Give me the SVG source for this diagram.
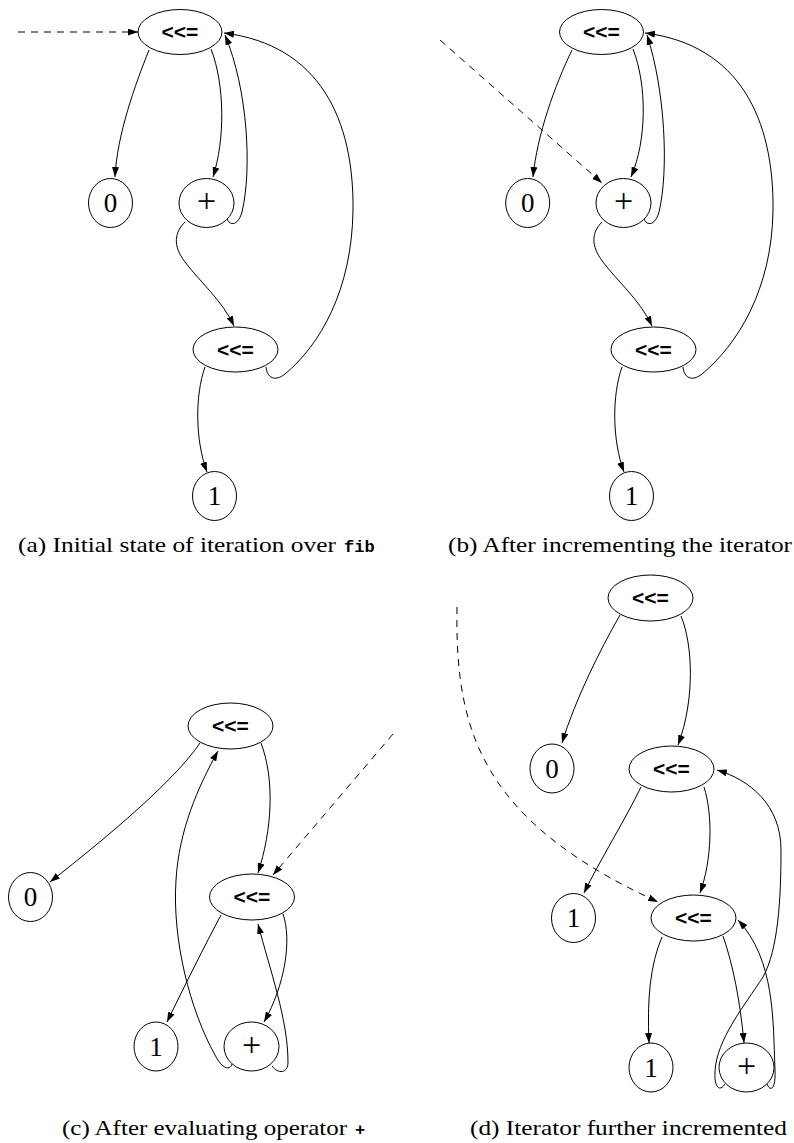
<svg xmlns="http://www.w3.org/2000/svg" width="794" height="1143" viewBox="0 0 794 1143">
<defs>
<marker id="ah" markerWidth="10" markerHeight="7" refX="10" refY="3.5" orient="auto" markerUnits="userSpaceOnUse"><path d="M0,0 L10,3.5 L0,7 z" fill="#000"/></marker>
<style>
.e{fill:#fff;stroke:#000;stroke-width:1}
.c{fill:none;stroke:#000;stroke-width:1;marker-end:url(#ah)}
.d{stroke-dasharray:7,6}
.op{font-family:"Liberation Sans",Arial,sans-serif;font-weight:bold;font-size:21px;text-anchor:middle}
.n{font-family:"Liberation Serif","Times New Roman",serif;font-size:27px;text-anchor:middle}
.p{font-family:"Liberation Serif","Times New Roman",serif;font-size:34px;text-anchor:middle}
.cap{font-family:"Liberation Serif","Times New Roman",serif;font-size:21px}
.tt{font-family:"Liberation Mono","Courier New",monospace;font-weight:bold;font-size:17px}
</style>
</defs>
<rect width="794" height="1143" fill="#fff"/>
<g id="connectors">
<path class="c d" d="M18,32 L138,32"/>
<path class="c" d="M149,50 C135,85 117,135 115,177"/>
<path class="c" d="M211,49 C225,85 225,140 213,177"/>
<path class="c" d="M227,219 C230,226 238,226 242,212 C252,170 248,90 225,35"/>
<path class="c" d="M185,222 C175,232 172,245 185,262 C200,282 222,300 234,326"/>
<path class="c" d="M266,367 C267,378 275,382 285,374 C320,345 352,290 353,210 C354,120 320,45 224,33"/>
<path class="c" d="M205,367 C195,395 195,440 207,472"/>
<path class="c d" d="M440,40 L602,183"/>
<path class="c" d="M572,50 C555,85 537,135 533,177"/>
<path class="c" d="M633,49 C647,85 647,140 631,177"/>
<path class="c" d="M644,219 C647,226 655,226 659,212 C669,170 665,90 647,35"/>
<path class="c" d="M602,222 C592,232 590,245 603,262 C618,282 640,300 652,326"/>
<path class="c" d="M683,367 C684,378 692,382 702,374 C737,345 772,290 773,210 C774,120 740,45 645,33"/>
<path class="c" d="M622,367 C612,395 612,440 624,472"/>
<path class="c" d="M200,743 C175,780 110,835 50,882"/>
<path class="c" d="M261,743 C275,780 272,830 258,873"/>
<path class="c d" d="M393,734 L273,875"/>
<path class="c" d="M232,1064 C230,1071 222,1069 215,1055 C190,1010 172,940 176,880 C179,830 198,787 218,751"/>
<path class="c" d="M221,915 C205,945 185,985 167,1022"/>
<path class="c" d="M283,914 C292,940 285,985 264,1022"/>
<path class="c" d="M272,1066 C278,1074 288,1074 288,1062 C288,1020 270,970 258,924"/>
<path class="c" d="M620,615 C600,650 575,700 562,743"/>
<path class="c" d="M681,616 C693,645 695,700 678,745"/>
<path class="c d" d="M457,607 C455,730 480,820 658,902"/>
<path class="c" d="M641,787 C625,820 600,860 584,893"/>
<path class="c" d="M704,787 C713,815 712,860 700,893"/>
<path class="c" d="M725,1084 C720,1092 714,1088 715,1072 C716,1040 745,1005 763,977 C778,950 781,900 781,850 C781,805 750,780 717,770"/>
<path class="c" d="M662,937 C650,965 647,1000 649,1043"/>
<path class="c" d="M723,936 C733,965 740,1000 744,1043"/>
<path class="c" d="M767,1084 C770,1092 776,1090 775,1070 C773,1020 775,960 738,920"/>
</g>
<g id="a-top"><ellipse class="e" cx="180" cy="32" rx="42" ry="22.5"/><text class="op" x="180" y="39">&lt;&lt;=</text></g>
<g id="a-zero"><ellipse class="e" cx="110.5" cy="203" rx="22" ry="24.5"/><text class="n" x="110.5" y="212">0</text></g>
<g id="a-plus"><ellipse class="e" cx="206.5" cy="203" rx="27.5" ry="24.5"/><text class="p" x="206.5" y="212">+</text></g>
<g id="a-mid"><ellipse class="e" cx="235.5" cy="349.5" rx="42.5" ry="22.5"/><text class="op" x="235.5" y="356.5">&lt;&lt;=</text></g>
<g id="a-one"><ellipse class="e" cx="214.5" cy="496" rx="22" ry="24.5"/><text class="n" x="214.5" y="505">1</text></g>
<g id="b-top"><ellipse class="e" cx="601.5" cy="32" rx="42" ry="22.5"/><text class="op" x="601.5" y="39">&lt;&lt;=</text></g>
<g id="b-zero"><ellipse class="e" cx="527.7" cy="203" rx="22" ry="24.5"/><text class="n" x="527.7" y="212">0</text></g>
<g id="b-plus"><ellipse class="e" cx="623.5" cy="203" rx="27.5" ry="24.5"/><text class="p" x="623.5" y="212">+</text></g>
<g id="b-mid"><ellipse class="e" cx="653.5" cy="349.5" rx="42.5" ry="22.5"/><text class="op" x="653.5" y="356.5">&lt;&lt;=</text></g>
<g id="b-one"><ellipse class="e" cx="631.5" cy="496" rx="22" ry="24.5"/><text class="n" x="631.5" y="505">1</text></g>
<g id="c-top"><ellipse class="e" cx="230.5" cy="726" rx="42.5" ry="23"/><text class="op" x="230.5" y="733">&lt;&lt;=</text></g>
<g id="c-mid"><ellipse class="e" cx="252" cy="897" rx="42.5" ry="23"/><text class="op" x="252" y="904">&lt;&lt;=</text></g>
<g id="c-zero"><ellipse class="e" cx="30.5" cy="897" rx="22" ry="24.5"/><text class="n" x="30.5" y="906">0</text></g>
<g id="c-one"><ellipse class="e" cx="156" cy="1046.5" rx="22" ry="24.5"/><text class="n" x="156" y="1055.5">1</text></g>
<g id="c-plus"><ellipse class="e" cx="251.5" cy="1046.5" rx="27.5" ry="24.5"/><text class="p" x="251.5" y="1055.5">+</text></g>
<g id="d-top"><ellipse class="e" cx="650.5" cy="598" rx="42.5" ry="23"/><text class="op" x="650.5" y="605">&lt;&lt;=</text></g>
<g id="d-zero"><ellipse class="e" cx="552" cy="768.5" rx="22" ry="24.5"/><text class="n" x="552" y="777.5">0</text></g>
<g id="d-mid"><ellipse class="e" cx="671.5" cy="769" rx="42.5" ry="23"/><text class="op" x="671.5" y="776">&lt;&lt;=</text></g>
<g id="d-one1"><ellipse class="e" cx="573.5" cy="918" rx="22" ry="24.5"/><text class="n" x="573.5" y="927">1</text></g>
<g id="d-low"><ellipse class="e" cx="693.5" cy="918" rx="42.5" ry="23"/><text class="op" x="693.5" y="925">&lt;&lt;=</text></g>
<g id="d-one2"><ellipse class="e" cx="651" cy="1067.5" rx="22" ry="24.5"/><text class="n" x="651" y="1076.5">1</text></g>
<g id="d-plus"><ellipse class="e" cx="746.5" cy="1067.5" rx="27.5" ry="24.5"/><text class="p" x="746.5" y="1076.5">+</text></g>
<g id="captions">
<text class="cap" x="18" y="552" textLength="318" lengthAdjust="spacingAndGlyphs">(a) Initial state of iteration over</text>
<text class="tt" x="344" y="552">fib</text>
<text class="cap" x="448" y="552" textLength="344" lengthAdjust="spacingAndGlyphs">(b) After incrementing the iterator</text>
<text class="cap" x="62" y="1135" textLength="285" lengthAdjust="spacingAndGlyphs">(c) After evaluating operator</text>
<text class="tt" x="355" y="1135">+</text>
<text class="cap" x="470" y="1135" textLength="317" lengthAdjust="spacingAndGlyphs">(d) Iterator further incremented</text>
</g>
</svg>
